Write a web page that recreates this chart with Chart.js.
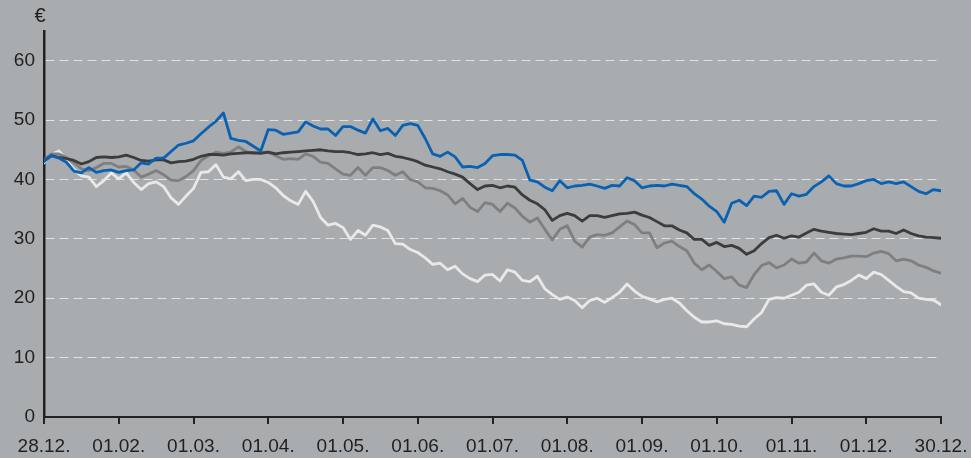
<!DOCTYPE html>
<html><head><meta charset="utf-8">
<script src="https://cdn.jsdelivr.net/npm/chart.js@4"></script>
<style>html,body{margin:0;padding:0;background:#a9acaf;}canvas{display:block;}</style>
</head><body>
<canvas id="c" width="971" height="458"></canvas>
<script>
const monthLabels = ['28.12.','01.02.','01.03.','01.04.','01.05.','01.06.','01.07.','01.08.','01.09.','01.10.','01.11.','01.12.','30.12.'];
const yTicks = [0,10,20,30,40,50,60];
const unit = '€';
const pointsPerMonth = 10;

const seriesBlue = [
43.0,44.0,43.6,42.9,41.4,41.1,42.0,41.2,41.5,41.6,
41.2,41.5,41.6,42.8,42.6,43.6,43.6,44.7,45.8,46.1,
46.5,47.7,48.8,49.8,51.2,46.9,46.6,46.4,45.6,44.8,
48.4,48.3,47.6,47.8,48.0,49.7,49.0,48.5,48.5,47.4,
48.9,48.9,48.3,47.8,50.2,48.2,48.6,47.4,49.1,49.4,
49.1,46.9,44.3,43.9,44.6,43.8,42.1,42.2,42.0,42.7,
44.0,44.2,44.2,44.1,43.2,39.9,39.6,38.7,38.1,39.8,
38.6,38.9,39.0,39.2,38.9,38.5,39.0,38.9,40.3,39.8,
38.6,38.9,39.0,38.9,39.2,39.0,38.8,37.6,36.7,35.5,
34.6,32.8,36.0,36.5,35.6,37.2,37.0,38.0,38.1,35.8,
37.6,37.2,37.5,38.8,39.6,40.6,39.3,38.9,38.9,39.3,
39.8,40.0,39.3,39.6,39.3,39.6,38.8,38.0,37.6,38.3,
38.1];

const seriesDark = [
43.2,44.0,43.7,43.5,43.2,42.6,43.0,43.7,43.8,43.7,
43.8,44.1,43.7,43.2,43.1,43.3,43.3,42.8,43.0,43.1,
43.4,43.9,44.2,44.2,44.1,44.3,44.4,44.5,44.5,44.4,
44.6,44.3,44.5,44.6,44.7,44.8,44.9,45.0,44.8,44.7,
44.7,44.5,44.2,44.3,44.5,44.2,44.4,43.9,43.7,43.4,
43.0,42.4,42.1,41.8,41.3,40.9,40.4,39.3,38.3,38.9,
39.0,38.6,38.9,38.7,37.4,36.5,35.9,34.9,33.1,33.9,
34.3,33.9,33.0,33.9,33.9,33.6,33.9,34.2,34.3,34.5,
34.0,33.6,32.9,32.2,32.2,31.5,31.0,29.9,29.9,28.9,
29.4,28.7,28.9,28.4,27.4,28.0,29.2,30.2,30.6,30.1,
30.5,30.3,31.0,31.6,31.3,31.1,30.9,30.8,30.7,30.9,
31.1,31.7,31.3,31.3,30.9,31.5,30.9,30.5,30.3,30.2,
30.1];

const seriesMedium = [
43.3,44.3,44.3,43.7,42.8,41.8,41.5,42.0,42.7,42.7,
42.1,42.2,41.6,40.4,40.9,41.5,40.8,39.9,39.8,40.5,
41.5,43.2,44.0,44.6,44.4,44.6,45.5,44.7,44.4,44.6,
44.6,44.0,43.4,43.5,43.4,44.3,43.9,42.9,42.7,41.8,
40.9,40.7,42.0,40.7,42.0,42.0,41.5,40.7,41.3,40.0,
39.6,38.6,38.5,38.1,37.4,35.9,36.8,35.3,34.6,36.1,
35.8,34.6,36.0,35.2,33.8,32.8,33.5,31.6,29.8,31.6,
32.2,29.6,28.6,30.3,30.7,30.6,31.0,32.0,33.0,32.4,
31.0,31.0,28.5,29.3,29.6,28.7,28.0,25.9,24.8,25.6,
24.5,23.3,23.6,22.2,21.8,24.0,25.5,26.0,25.1,25.6,
26.6,25.9,26.1,27.6,26.3,25.9,26.6,26.8,27.1,27.1,
27.0,27.6,27.9,27.5,26.3,26.6,26.3,25.6,25.2,24.6,
24.2];

const seriesLight = [
42.8,44.2,44.8,43.2,41.7,40.6,40.4,38.8,39.8,41.1,
40.1,41.1,39.5,38.3,39.3,39.6,38.8,36.9,35.8,37.2,
38.5,41.2,41.3,42.5,40.4,40.1,41.3,39.8,40.0,40.0,
39.5,38.6,37.3,36.4,35.8,38.0,36.3,33.6,32.3,32.6,
31.9,29.9,31.4,30.6,32.3,32.0,31.4,29.2,29.1,28.2,
27.7,26.8,25.7,25.9,24.8,25.4,24.1,23.3,22.8,23.9,
24.0,22.9,24.8,24.4,23.0,22.8,23.7,21.6,20.6,19.8,
20.2,19.6,18.4,19.6,20.0,19.3,20.1,21.0,22.4,21.2,
20.3,19.9,19.4,19.8,20.0,19.2,17.9,16.8,16.0,16.0,
16.2,15.7,15.6,15.3,15.2,16.5,17.6,19.8,20.1,20.0,
20.5,21.0,22.2,22.4,21.0,20.5,21.9,22.3,23.0,23.9,
23.3,24.4,24.0,23.0,22.0,21.1,20.9,20.0,19.8,19.7,
18.9];

const toPoints = arr => arr.map((v, i) => ({x: i / pointsPerMonth, y: v}));
const FONT = 'Liberation Sans, Arial, sans-serif';
const INK = '#1f1f1f';

const unitPlugin = {
  id: 'unitLabel',
  afterDraw(chart) {
    const ctx = chart.ctx;
    ctx.save();
    ctx.fillStyle = INK;
    ctx.font = '20px ' + FONT;
    ctx.textAlign = 'center';
    ctx.textBaseline = 'middle';
    ctx.fillText(unit, 40, 16);
    ctx.restore();
  }
};

new Chart(document.getElementById('c'), {
  type: 'line',
  data: {
    datasets: [
      {data: toPoints(seriesBlue), borderColor: '#0a61b2'},
      {data: toPoints(seriesDark), borderColor: '#3c3c3c'},
      {data: toPoints(seriesMedium), borderColor: '#7f7f7f'},
      {data: toPoints(seriesLight), borderColor: '#e9e9e9'}
    ]
  },
  options: {
    responsive: false,
    animation: false,
    devicePixelRatio: 1,
    layout: {padding: {top: 31, right: 30, left: 0, bottom: 0}},
    elements: {
      line: {borderWidth: 2.8, tension: 0, fill: false, borderCapStyle: 'round', borderJoinStyle: 'round'},
      point: {radius: 0, hoverRadius: 0}
    },
    plugins: {legend: {display: false}, tooltip: {enabled: false}},
    scales: {
      x: {
        type: 'linear', min: 0, max: 12,
        afterBuildTicks: s => { s.ticks = monthLabels.map((_, i) => ({value: i})); },
        afterFit: s => { s.height = 41; s.paddingLeft = 0; s.paddingRight = 0; },
        ticks: {
          callback: v => monthLabels[v],
          color: INK, font: {family: FONT, size: 19}, padding: 11,
          maxRotation: 0, autoSkip: false
        },
        grid: {drawOnChartArea: false, drawTicks: true, tickLength: 7, color: '#222', lineWidth: 2},
        border: {display: true, color: '#222', width: 2}
      },
      y: {
        min: 0, max: 65,
        afterBuildTicks: s => { s.ticks = yTicks.map(v => ({value: v})); },
        afterFit: s => { s.width = 44; s.paddingTop = 0; s.paddingBottom = 0; },
        ticks: {color: INK, font: {family: FONT, size: 19}, padding: 9},
        grid: {
          drawTicks: false, lineWidth: 1,
          color: c => (c.tick && c.tick.value > 0) ? '#e2e2e2' : 'rgba(0,0,0,0)'
        },
        border: {display: true, color: '#222', width: 2.5, dash: [9, 5]}
      }
    }
  },
  plugins: [unitPlugin]
});
</script>
</body></html>
